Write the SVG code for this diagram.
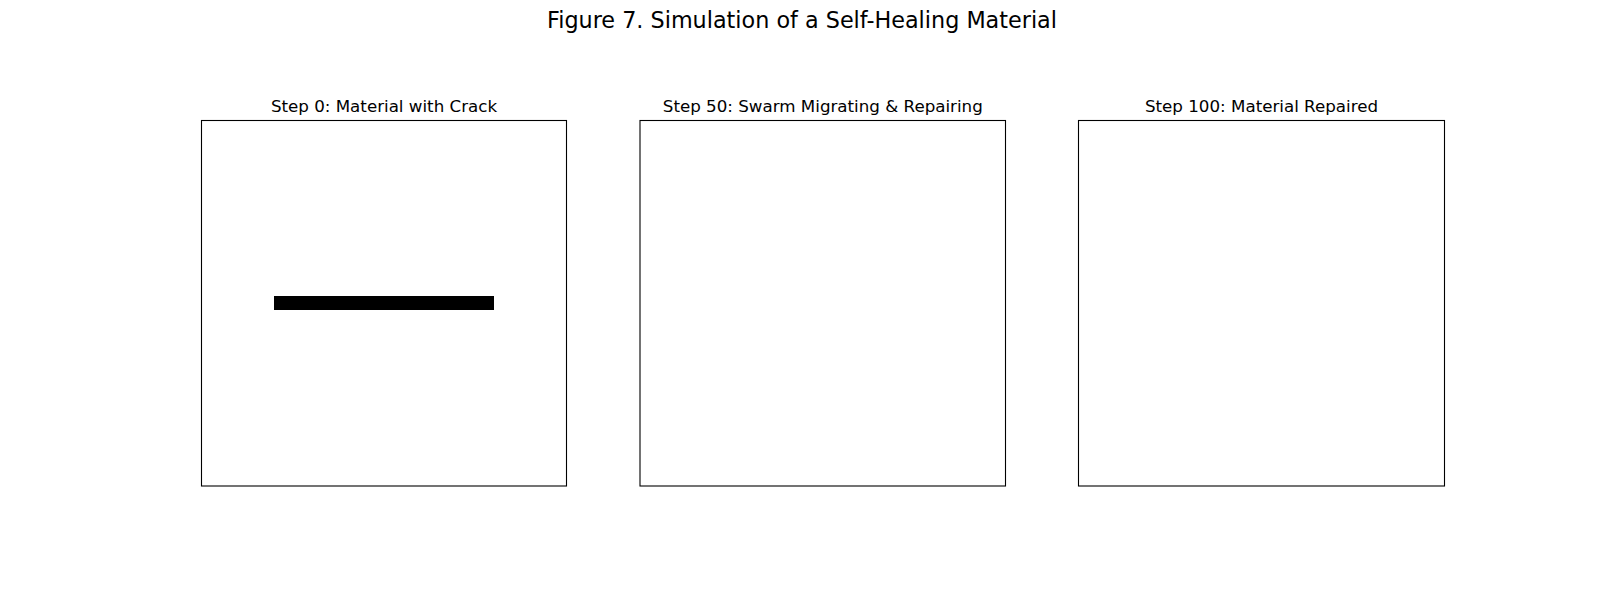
<svg xmlns="http://www.w3.org/2000/svg" width="1604" height="600" viewBox="0 0 1604 600">
<style>
.frame{fill:none;stroke:#000;stroke-width:1.1}
.t{font-family:"DejaVu Sans",sans-serif;font-size:16.7px;text-anchor:middle;fill:#000}
.st{font-family:"DejaVu Sans",sans-serif;font-size:22.3px;text-anchor:middle;fill:#000}
</style>
<rect width="1604" height="600" fill="#fff"/>
<text class="st" x="802" y="28">Figure 7. Simulation of a Self-Healing Material</text>
<g id="panel0">
<text class="t" x="384" y="112">Step 0: Material with Crack</text>
<rect class="frame" x="201.5" y="120.5" width="365" height="365.5"/>
<rect x="274" y="296" width="220" height="14" fill="#000"/>
</g>
<g id="panel50">
<text class="t" x="822.8" y="112">Step 50: Swarm Migrating &amp; Repairing</text>
<rect class="frame" x="640" y="120.5" width="365.5" height="365.5"/>
</g>
<g id="panel100">
<text class="t" x="1261.5" y="112">Step 100: Material Repaired</text>
<rect class="frame" x="1078.5" y="120.5" width="366" height="365.5"/>
</g>
<g id="connectors"></g>
</svg>
